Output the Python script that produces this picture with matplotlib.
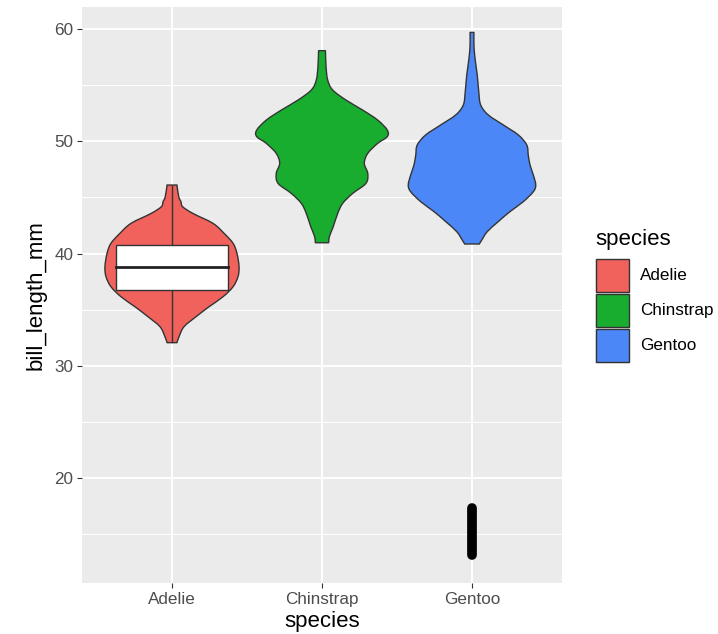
import numpy as np
import matplotlib
matplotlib.use('Agg')
import matplotlib.pyplot as plt
from matplotlib.patches import Rectangle, PathPatch
from matplotlib.path import Path

plt.rcParams['font.family'] = ['Liberation Sans', 'DejaVu Sans']

species = ['Adelie', 'Chinstrap', 'Gentoo']
fills = ['#F1625C', '#19AD30', '#4B87F6']

# violin outlines: bill length and half width (category units)
adelie_y = [32.06, 32.59, 33.48, 34.37, 35.26, 36.15, 37.04, 37.94, 38.83,
            40.02, 40.91, 41.80, 42.69, 43.58, 44.17, 44.60, 45.06, 46.10]
adelie_w = [0.033, 0.047, 0.08, 0.16, 0.247, 0.34, 0.407, 0.44, 0.447,
            0.433, 0.407, 0.347, 0.273, 0.138, 0.071, 0.06, 0.045, 0.033]

chinstrap_y = [40.96, 41.50, 42.39, 43.58, 44.47, 45.36, 46.25, 47.14, 48.03, 48.92,
               49.81, 50.41, 51.00, 51.89, 52.78, 53.67, 54.57, 55.46, 56.64, 58.07]
chinstrap_w = [0.045, 0.049, 0.075, 0.105, 0.138, 0.205, 0.293, 0.305, 0.282, 0.305,
               0.371, 0.435, 0.435, 0.371, 0.271, 0.16, 0.071, 0.038, 0.027, 0.023]

gentoo_y = [40.85, 41.20, 41.95, 42.84, 43.73, 44.62, 45.51, 46.10, 46.99, 47.88, 48.78,
            49.67, 50.56, 51.45, 52.34, 53.23, 54.42, 55.90, 57.39, 58.57, 59.70]
gentoo_w = [0.049, 0.065, 0.102, 0.175, 0.253, 0.342, 0.409, 0.425, 0.409, 0.387, 0.375,
            0.365, 0.309, 0.209, 0.109, 0.058, 0.045, 0.035, 0.02, 0.013, 0.013]

# Adelie box (white) stats
adelie_box = {'low': 32.1, 'q1': 36.75, 'med': 38.8, 'q3': 40.75, 'high': 46.0}
# thick black bar drawn at Gentoo
gentoo_bar = [13.1, 17.3]

W, H = 718, 634
fx = lambda px: px / W
fy = lambda py: 1 - py / H


def smooth_side(pts):
    # bezier segments through the read points (catmull-rom handles)
    verts, codes = [], []
    n = len(pts)
    for k in range(n - 1):
        p0, p1 = pts[max(k - 1, 0)], pts[k]
        p2, p3 = pts[k + 1], pts[min(k + 2, n - 1)]
        verts += [p1 + (p2 - p0) / 6, p2 - (p3 - p1) / 6, p2]
        codes += [Path.CURVE4] * 3
    return verts, codes


def violin_path(x, y, w):
    y = np.asarray(y, float)
    w = np.asarray(w, float)
    right = np.column_stack([x + w, y])
    left = np.column_stack([x - w, y])[::-1]
    verts = [left[-1], right[0]]
    codes = [Path.MOVETO, Path.LINETO]
    v, c = smooth_side(right)
    verts += v; codes += c
    verts.append(left[0]); codes.append(Path.LINETO)
    v, c = smooth_side(left)
    verts += v; codes += c
    verts.append(left[-1]); codes.append(Path.CLOSEPOLY)
    return Path(verts, codes)


fig = plt.figure(figsize=(W / 100, H / 100), dpi=100)
ax = fig.add_axes([fx(82), fy(583), 480 / W, 576 / H])
ax.set_facecolor('#EBEBEB')
for sp in ax.spines.values():
    sp.set_visible(False)

ax.set_xlim(0.4, 3.6)
ax.set_ylim(10.65, 61.96)
ax.set_yticks([20, 30, 40, 50, 60])
ax.set_yticks([15, 25, 35, 45, 55], minor=True)
ax.set_xticks([1, 2, 3], species)
ax.grid(which='major', color='white', lw=1.4)
ax.grid(which='minor', axis='y', color='white', lw=0.7)
ax.set_axisbelow(True)
ax.tick_params(which='minor', length=0)
ax.tick_params(which='major', length=3.3, width=0.8, color='#333333',
               labelcolor='#4D4D4D', labelsize=12.3, pad=3)

violins = [(adelie_y, adelie_w), (chinstrap_y, chinstrap_w), (gentoo_y, gentoo_w)]
for i, (y, w) in enumerate(violins):
    ax.add_patch(PathPatch(violin_path(i + 1, y, w), facecolor=fills[i],
                           edgecolor='#333333', lw=1.0, zorder=2))

# boxplot on Adelie
bw = 0.375
ax.plot([1, 1], [adelie_box['low'], adelie_box['high']], color='#333333', lw=1.0, zorder=3)
ax.add_patch(Rectangle((1 - bw, adelie_box['q1']), 2 * bw, adelie_box['q3'] - adelie_box['q1'],
                       facecolor='white', edgecolor='#333333', lw=1.0, zorder=4))
ax.plot([1 - bw, 1 + bw], [adelie_box['med']] * 2, color='#222222', lw=2.0, zorder=5)

ax.plot([3, 3], gentoo_bar, color='black', lw=7, solid_capstyle='round', zorder=3)

# axis titles
fig.text(fx(36), fy(295), 'bill_length_mm', rotation=90, ha='center', va='center', fontsize=16)
fig.text(fx(322), fy(621), 'species', ha='center', va='center', fontsize=16)

# legend
fig.text(fx(595), fy(240), 'species', ha='left', va='center', fontsize=16)
for i, name in enumerate(species):
    top = 259 + 35 * i
    fig.add_artist(Rectangle((fx(595), fy(top + 34.5)), 35 / W, 35 / H,
                             transform=fig.transFigure, facecolor='#F2F2F2', edgecolor='none'))
    fig.add_artist(Rectangle((fx(596), fy(top + 33)), 33 / W, 33 / H,
                             transform=fig.transFigure, facecolor=fills[i],
                             edgecolor='#333333', lw=1.0))
    fig.text(fx(640), fy(top + 16.5), name, ha='left', va='center', fontsize=12.3)

fig.savefig('out.png', dpi=100)
